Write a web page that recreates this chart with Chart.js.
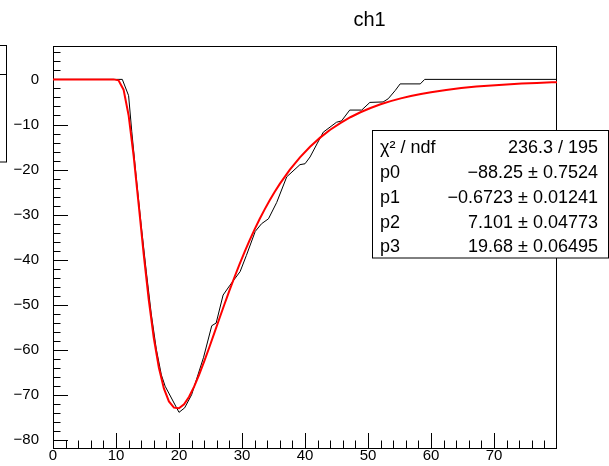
<!DOCTYPE html>
<html><head><meta charset="utf-8">
<script src="https://cdn.jsdelivr.net/npm/chart.js@4.4.1/dist/chart.umd.min.js"></script>
<style>html,body{margin:0;padding:0;background:#fff;overflow:hidden}#wrap{width:609px;height:466px}</style>
</head><body><div id="wrap"><canvas id="c" width="609" height="466"></canvas></div>
<script>
// ---- data ----
const titleText = 'ch1';
const histX = [0, 11.0, 12.0, 12.5, 13.2, 14.0, 14.8, 15.6, 16.4, 17.2, 17.8, 20.0, 20.9, 22.0, 23.9, 25.2, 25.9, 27.0, 28.1, 29.7, 30.7, 32.1, 33.1, 34.2, 35.5, 37.1, 39.2, 40.0, 40.8, 41.9, 42.9, 45.0, 45.8, 47.1, 49.0, 50.3, 52.4, 53.2, 54.3, 55.1, 58.3, 59.0, 80];
const histY = [0, 0, -3.6, -11.5, -21.5, -32.3, -42.5, -52.0, -59.8, -65.5, -68.0, -73.8, -72.8, -69.9, -61.6, -54.6, -54.0, -47.8, -45.6, -42.6, -39.0, -33.7, -32.0, -30.9, -27.3, -21.6, -18.9, -18.7, -17.2, -14.3, -11.7, -9.5, -9.2, -6.8, -6.8, -5.1, -5.0, -4.3, -2.5, -1.0, -1.0, 0, 0];
const fitX = [0, 9.6, 10.4, 11.2, 12.0, 12.8, 13.6, 14.4, 15.2, 16.0, 16.8, 17.6, 18.4, 19.2, 20.0, 20.8, 21.6, 22.4, 23.2, 24.0, 24.8, 25.6, 26.4, 27.2, 28.0, 28.8, 29.6, 30.4, 31.2, 32.0, 32.8, 33.6, 34.4, 35.2, 36.0, 37.6, 39.2, 40.8, 42.4, 44.0, 45.6, 47.2, 48.8, 50.4, 52.0, 53.6, 55.2, 56.8, 58.4, 60.0, 62.4, 64.8, 67.2, 69.6, 72.0, 74.4, 76.8, 79.2, 80.0];
const fitY = [0, 0, -0.21, -2.28, -7.94, -16.94, -27.77, -38.81, -48.89, -57.33, -63.86, -68.50, -71.39, -72.76, -72.88, -72.00, -70.34, -68.10, -65.45, -62.52, -59.42, -56.25, -53.05, -49.90, -46.82, -43.85, -40.99, -38.27, -35.69, -33.26, -30.96, -28.81, -26.80, -24.92, -23.16, -20.01, -17.28, -14.93, -12.91, -11.17, -9.68, -8.39, -7.29, -6.34, -5.52, -4.82, -4.21, -3.68, -3.22, -2.83, -2.33, -1.93, -1.60, -1.33, -1.11, -0.93, -0.78, -0.66, -0.62];
const xTicks = [0, 10, 20, 30, 40, 50, 60, 70];
const yTicks = [0, -10, -20, -30, -40, -50, -60, -70, -80];
const xRange = [0, 80];
const yRange = [-81.7, 7.4];
const minorStep = 2;
const statLabels = ['χ² / ndf', 'p0', 'p1', 'p2', 'p3'];
const statValues = ['236.3 / 195', '−88.25 ± 0.7524', '−0.6723 ± 0.01241', '7.101 ± 0.04773', '19.68 ± 0.06495'];

const FONT = '"Liberation Sans", Arial, Helvetica, sans-serif';
const fmt = v => (v < 0 ? '\u2212' : '') + Math.abs(v);

const framePlugin = {
  id: 'rootFrame',
  beforeDatasetsDraw(chart) {
    const ctx = chart.ctx, a = chart.chartArea, xs = chart.scales.x, ys = chart.scales.y;
    ctx.save();
    ctx.strokeStyle = '#000'; ctx.lineWidth = 1;
    ctx.strokeRect(a.left + 0.5, a.top + 0.5, a.right - a.left - 1, a.bottom - a.top);
    ctx.beginPath();
    for (let v = Math.ceil(yRange[0] / minorStep) * minorStep; v <= yRange[1]; v += minorStep) {
      const y = Math.round(ys.getPixelForValue(v)) + 0.5;
      const len = yTicks.includes(v) ? 15 : 7.5;
      ctx.moveTo(a.left, y); ctx.lineTo(a.left + len, y);
    }
    for (let v = xRange[0]; v < xRange[1]; v += minorStep) {
      const x = Math.round(xs.getPixelForValue(v)) + 0.5;
      const len = xTicks.includes(v) ? 15 : 7.5;
      ctx.moveTo(x, a.bottom); ctx.lineTo(x, a.bottom - len);
    }
    ctx.stroke();
    ctx.restore();
  },
  afterDraw(chart) {
    const ctx = chart.ctx;
    ctx.save();
    // title
    ctx.fillStyle = '#000';
    ctx.font = '20px ' + FONT;
    ctx.textAlign = 'center'; ctx.textBaseline = 'alphabetic';
    ctx.fillText(titleText, 369.5, 26);
    // left partial box
    ctx.strokeStyle = '#000'; ctx.lineWidth = 1;
    ctx.fillStyle = '#fff';
    ctx.fillRect(-2, 45.5, 8.5, 116.5);
    ctx.strokeRect(-2, 45.5, 8.5, 116.5);
    ctx.beginPath(); ctx.moveTo(-2, 74.5); ctx.lineTo(6.5, 74.5); ctx.stroke();
    // stats box
    const bx = 372.5, by = 130.5, bw = 236, bh = 127.5;
    ctx.fillStyle = '#fff';
    ctx.fillRect(bx, by, bw, bh);
    ctx.strokeRect(bx, by, bw, bh);
    ctx.fillStyle = '#000';
    ctx.font = '18px ' + FONT;
    const base = [153, 178, 203, 227.5, 252];
    statLabels.forEach((t, i) => { ctx.textAlign = 'left'; ctx.fillText(t, 380, base[i]); });
    statValues.forEach((t, i) => { ctx.textAlign = 'right'; ctx.fillText(t, 598, base[i]); });
    ctx.restore();
  }
};

new Chart(document.getElementById('c'), {
  type: 'scatter',
  data: {
    datasets: [
      { label: 'fit', data: fitX.map((x, i) => ({ x, y: fitY[i] })), showLine: true, borderColor: '#ff0000', borderWidth: 2, pointRadius: 0, tension: 0, order: 1 },
      { label: 'ch1', data: histX.map((x, i) => ({ x, y: histY[i] })), showLine: true, borderColor: '#000000', borderWidth: 1, pointRadius: 0, tension: 0, order: 2 }
    ]
  },
  options: {
    responsive: false, animation: false, devicePixelRatio: 1,
    layout: { padding: { top: 46, right: 52, left: 0, bottom: 0 } },
    plugins: { legend: { display: false }, title: { display: false }, tooltip: { enabled: false } },
    scales: {
      x: {
        type: 'linear', min: xRange[0], max: xRange[1],
        afterBuildTicks: s => { s.ticks = xTicks.map(v => ({ value: v })); },
        afterFit: s => { s.height = 18; },
        grid: { display: false }, border: { display: false },
        ticks: { color: '#000', font: { family: FONT, size: 15 }, padding: -9, maxRotation: 0, autoSkip: false, callback: v => fmt(v) }
      },
      y: {
        type: 'linear', min: yRange[0], max: yRange[1],
        afterBuildTicks: s => { s.ticks = yTicks.map(v => ({ value: v })); },
        afterFit: s => { s.width = 53; },
        grid: { display: false }, border: { display: false },
        ticks: { color: '#000', font: { family: FONT, size: 15 }, padding: 6, autoSkip: false, callback: v => fmt(v) }
      }
    }
  },
  plugins: [framePlugin]
});
</script></body></html>
